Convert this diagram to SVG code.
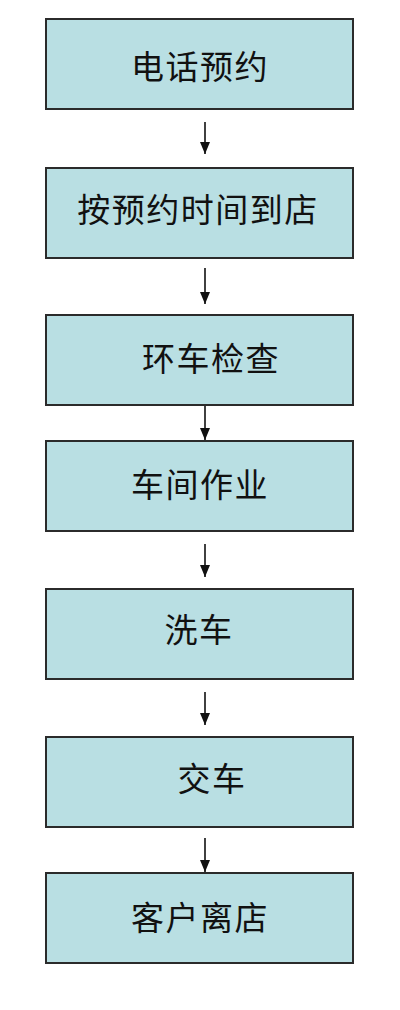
<svg xmlns="http://www.w3.org/2000/svg" width="400" height="1010" viewBox="0 0 400 1010">
<style>
.box{fill:#b9dfe3;stroke:#2b2b2b;stroke-width:2}
.lbl{font-family:"Noto Sans CJK SC","Noto Sans",sans-serif;font-size:33px;fill:#111;text-anchor:middle;letter-spacing:1.5px}
.conn{stroke:#111;stroke-width:1.6;fill:none}
</style>
<defs>
<marker id="ah" markerWidth="13" markerHeight="10" refX="12" refY="5" orient="auto" markerUnits="userSpaceOnUse" viewBox="0 0 13 10">
<path d="M0,0 L12,5 L0,10 Z" fill="#111"/>
</marker>
</defs>
<rect width="400" height="1010" fill="#fff"/>
<g id="connectors">
<line class="conn" x1="205" y1="122" x2="205" y2="154" marker-end="url(#ah)"/>
<line class="conn" x1="205" y1="268" x2="205" y2="304" marker-end="url(#ah)"/>
<line class="conn" x1="205" y1="406" x2="205" y2="440" marker-end="url(#ah)"/>
<line class="conn" x1="205" y1="544" x2="205" y2="577" marker-end="url(#ah)"/>
<line class="conn" x1="205" y1="692" x2="205" y2="725" marker-end="url(#ah)"/>
<line class="conn" x1="205" y1="838" x2="205" y2="872" marker-end="url(#ah)"/>
</g>
<g id="n1"><rect class="box" x="46" y="19" width="307" height="90"/><text class="lbl" x="200" y="79">电话预约</text></g>
<g id="n2"><rect class="box" x="46" y="168" width="307" height="90"/><text class="lbl" x="198" y="222">按预约时间到店</text></g>
<g id="n3"><rect class="box" x="46" y="315" width="307" height="90"/><text class="lbl" x="211" y="371">环车检查</text></g>
<g id="n4"><rect class="box" x="46" y="441" width="307" height="90"/><text class="lbl" x="200" y="497">车间作业</text></g>
<g id="n5"><rect class="box" x="46" y="589" width="307" height="90"/><text class="lbl" x="199" y="642">洗车</text></g>
<g id="n6"><rect class="box" x="46" y="737" width="307" height="90"/><text class="lbl" x="212" y="791">交车</text></g>
<g id="n7"><rect class="box" x="46" y="873" width="307" height="90"/><text class="lbl" x="200" y="930">客户离店</text></g>
</svg>
